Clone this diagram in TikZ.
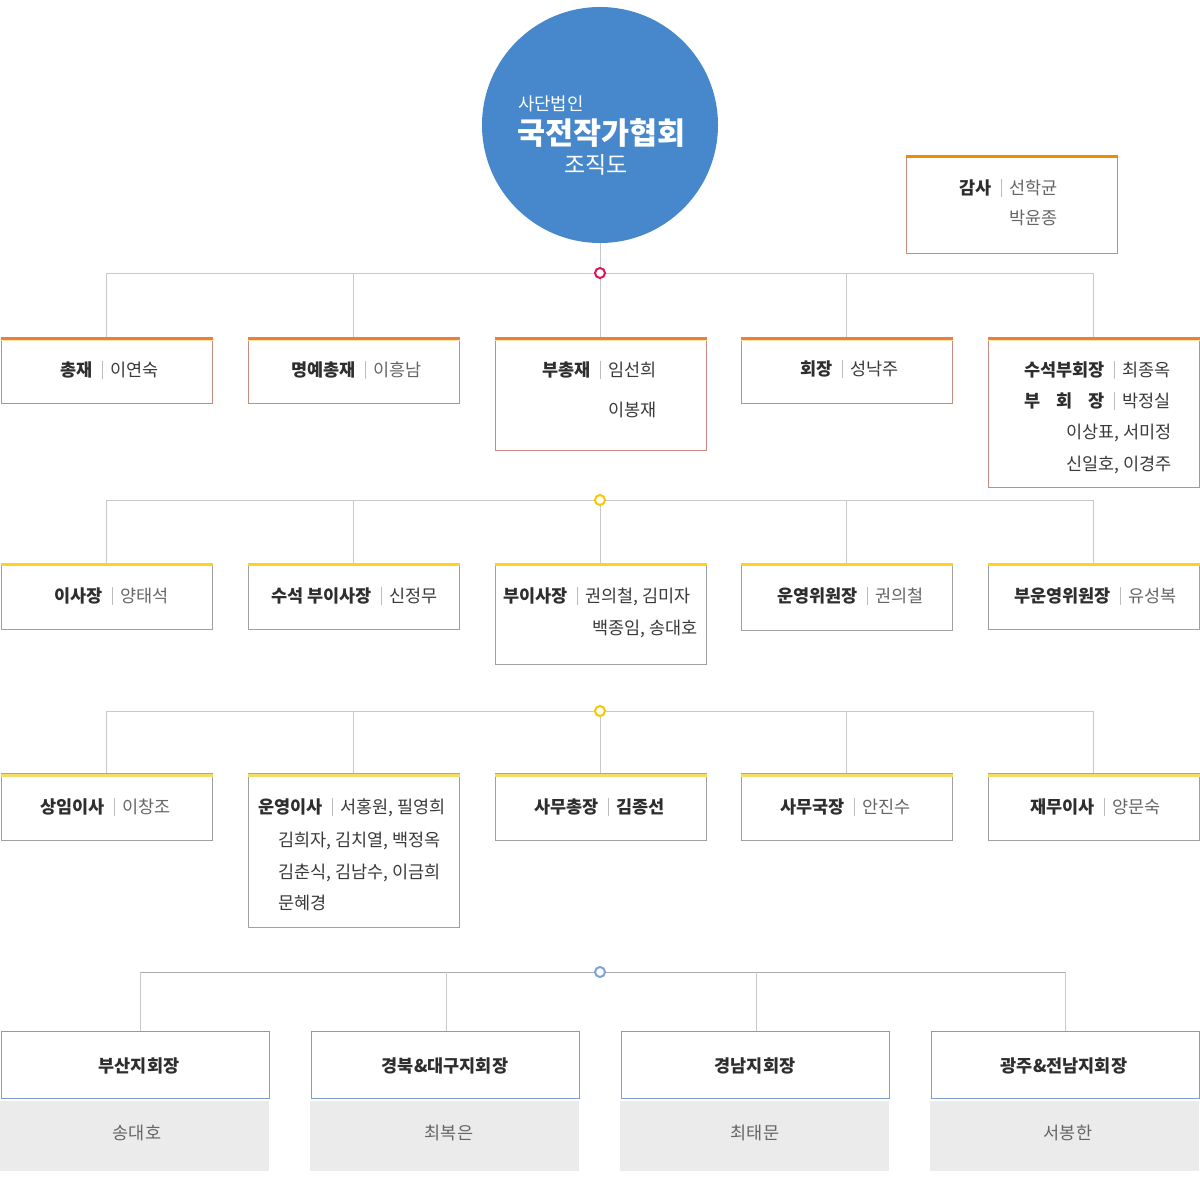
\documentclass[tikz,border=0pt]{standalone}
\usepackage{fontspec}
\setmainfont{Noto Sans CJK KR}
\usetikzlibrary{calc}
\definecolor{circblue}{HTML}{4688CB}
\definecolor{linegray}{HTML}{C9C9C9}
\definecolor{linegray4}{HTML}{ABABAB}
\definecolor{redhub}{HTML}{E0145A}
\definecolor{yelhub}{HTML}{F4C900}
\definecolor{bluehub}{HTML}{7FA2D6}
\definecolor{orangeA}{HTML}{EB7F3B}
\definecolor{orangeB}{HTML}{F08C00}
\definecolor{lightyelA}{HTML}{FBE6A6}
\definecolor{redbord}{HTML}{C98A82}
\definecolor{graybord}{HTML}{A0A0A0}
\definecolor{yelB}{HTML}{FFD21F}
\definecolor{goldC}{HTML}{C9A93A}
\definecolor{yelC}{HTML}{F3DD6A}
\definecolor{bluebord}{HTML}{7E9DC9}
\definecolor{grayfill}{HTML}{EBEBEB}
\definecolor{labcol}{HTML}{2E2E2E}
\definecolor{valcol}{HTML}{3A3A3A}
\definecolor{vallight}{HTML}{666666}
\definecolor{sepcol}{HTML}{BDBDBD}
\newcommand\ent[6]{%
  \node[lab, anchor=base east] (#1l) at (#2-9,#3) {#4};
  \draw[sepl] (#2,#3-15) -- (#2,#3+3);
  \node[#6, anchor=base west] (#1v) at (#2+8,#3) {#5};
}
\newcommand\stripeA[1]{%
  \draw[orangeA, line width=3pt] ([yshift=-1.5pt]#1.north west) -- ([yshift=-1.5pt]#1.north east);
  \draw[lightyelA, line width=1pt] ([yshift=-3.5pt]#1.north west) -- ([yshift=-3.5pt]#1.north east);
}
\newcommand\stripeB[1]{%
  \draw[yelB, line width=3pt] ([yshift=-1.5pt]#1.north west) -- ([yshift=-1.5pt]#1.north east);
}
\newcommand\stripeC[1]{%
  \draw[yelC, line width=3pt] ([yshift=-2pt]#1.north west) -- ([yshift=-2pt]#1.north east);
  \draw[goldC, line width=1pt] ([yshift=-0.5pt]#1.north west) -- ([yshift=-0.5pt]#1.north east);
}
\begin{document}
\begin{tikzpicture}[x=1pt,y=-1pt,
  conn/.style={draw=linegray, line width=1pt},
  conn4/.style={draw=linegray4, line width=1pt},
  hub/.style={circle, draw=#1, line width=2pt, fill=white, minimum size=10pt, inner sep=0pt},
  boxA/.style={draw=redbord, line width=1pt, fill=white, anchor=north west, inner sep=0pt},
  boxB/.style={draw=graybord, line width=1pt, fill=white, anchor=north west, inner sep=0pt},
  boxD/.style={draw=bluebord, line width=1pt, fill=white, anchor=north west, inner sep=0pt},
  boxG/.style={fill=grayfill, anchor=north west, inner sep=0pt},
  lab/.style={font=\fontsize{17.5}{21}\selectfont\bfseries, text=labcol, inner sep=0pt},
  val/.style={font=\fontsize{17.5}{21}\selectfont, text=valcol, inner sep=0pt},
  valL/.style={font=\fontsize{17.5}{21}\selectfont, text=vallight, inner sep=0pt},
  sepl/.style={draw=sepcol, line width=0.8pt},
  ttl/.style={text=white, inner sep=0pt, anchor=base west}
]
\fill[white] (0,0) rectangle (1200,1187);
\useasboundingbox (0,0) rectangle (1200,1187);

% ---- title circle
\node[circle, fill=circblue, minimum size=236pt, inner sep=0pt] (title) at (600,125) {};
\node[ttl, font=\fontsize{17.8}{21}\selectfont] (t1) at (518,110) {사단법인};
\node[ttl, font=\fontsize{30.5}{35}\selectfont\bfseries] (t2) at (517,144) {국전작가협회};
\node[ttl, font=\fontsize{23}{27}\selectfont] (t3) at (564,173) {조직도};

% ---- audit box
\node[boxA, minimum width=211pt, minimum height=98pt] (gam) at (905.5,155) {};
\draw[orangeB, line width=3pt] ([yshift=-1.5pt]gam.north west) -- ([yshift=-1.5pt]gam.north east);
\ent{gam}{1001}{194}{감사}{선학균}{valL}
\node[valL, anchor=base west] (gam2) at (1009,224) {박윤종};

% ---- level 1
\coordinate (h1) at (600,273);
\coordinate (j11) at (106,273); \coordinate (j12) at (353,273);
\coordinate (j14) at (846,273); \coordinate (j15) at (1093,273);
\node[boxA, minimum width=211pt, minimum height=66pt] (b11) at (0.5,337) {};
\node[boxA, minimum width=211pt, minimum height=66pt] (b12) at (247.5,337) {};
\node[boxA, minimum width=211pt, minimum height=113pt] (b13) at (494.5,337) {};
\node[boxA, minimum width=211pt, minimum height=66pt] (b14) at (740.5,337) {};
\node[boxA, minimum width=211pt, minimum height=150pt] (b15) at (987.5,337) {};
\draw[conn] (title.south) -- (h1);
\draw[conn] (j11) -- (j15);
\draw[conn] (j11) -- (j11 |- b11.north);
\draw[conn] (j12) -- (j12 |- b12.north);
\draw[conn] (h1) -- (h1 |- b13.north);
\draw[conn] (j14) -- (j14 |- b14.north);
\draw[conn] (j15) -- (j15 |- b15.north);
\node[hub=redhub] (hub1) at (h1) {};
\stripeA{b11}\stripeA{b12}\stripeA{b13}\stripeA{b14}\stripeA{b15}
\ent{e11}{102}{376}{총재}{이연숙}{val}
\ent{e12}{365}{376}{명예총재}{이흥남}{valL}
\ent{e13}{600}{376}{부총재}{임선희}{val}
\node[val, anchor=base west] (e13b) at (608,416) {이봉재};
\ent{e14}{842}{375}{회장}{성낙주}{val}
\ent{e15}{1114}{376}{수석부회장}{최종옥}{val}
\ent{e16}{1114}{407}{\makebox[80pt][s]{부\hfill 회\hfill 장}}{박정실}{val}
\node[val, anchor=base east] (e17) at (1172,438) {이상표, 서미정};
\node[val, anchor=base east] (e18) at (1172,470) {신일호, 이경주};

% ---- level 2
\coordinate (h2) at (600,500);
\coordinate (j21) at (106,500); \coordinate (j22) at (353,500);
\coordinate (j24) at (846,500); \coordinate (j25) at (1093,500);
\node[boxB, minimum width=211pt, minimum height=66pt] (b21) at (0.5,563) {};
\node[boxB, minimum width=211pt, minimum height=66pt] (b22) at (247.5,563) {};
\node[boxB, minimum width=211pt, minimum height=101pt] (b23) at (494.5,563) {};
\node[boxB, minimum width=211pt, minimum height=67pt] (b24) at (740.5,563) {};
\node[boxB, minimum width=211pt, minimum height=66pt] (b25) at (987.5,563) {};
\draw[conn] (j21) -- (j25);
\draw[conn] (j21) -- (j21 |- b21.north);
\draw[conn] (j22) -- (j22 |- b22.north);
\draw[conn] (h2) -- (h2 |- b23.north);
\draw[conn] (j24) -- (j24 |- b24.north);
\draw[conn] (j25) -- (j25 |- b25.north);
\node[hub=yelhub] (hub2) at (h2) {};
\stripeB{b21}\stripeB{b22}\stripeB{b23}\stripeB{b24}\stripeB{b25}
\ent{e21}{112}{602}{이사장}{양태석}{valL}
\ent{e22}{381}{602}{수석 부이사장}{신정무}{val}
\ent{e23}{577}{602}{부이사장}{권의철, 김미자}{val}
\node[val, anchor=base east] (e23b) at (698,634) {백종임, 송대호};
\ent{e24}{867}{602}{운영위원장}{권의철}{valL}
\ent{e25}{1120}{602}{부운영위원장}{유성복}{valL}

% ---- level 3
\coordinate (h3) at (600,711);
\coordinate (j31) at (106,711); \coordinate (j32) at (353,711);
\coordinate (j34) at (846,711); \coordinate (j35) at (1093,711);
\node[boxB, minimum width=211pt, minimum height=67pt] (b31) at (0.5,773) {};
\node[boxB, minimum width=211pt, minimum height=154pt] (b32) at (247.5,773) {};
\node[boxB, minimum width=211pt, minimum height=67pt] (b33) at (494.5,773) {};
\node[boxB, minimum width=211pt, minimum height=67pt] (b34) at (740.5,773) {};
\node[boxB, minimum width=211pt, minimum height=67pt] (b35) at (987.5,773) {};
\draw[conn] (j31) -- (j35);
\draw[conn] (j31) -- (j31 |- b31.north);
\draw[conn] (j32) -- (j32 |- b32.north);
\draw[conn] (h3) -- (h3 |- b33.north);
\draw[conn] (j34) -- (j34 |- b34.north);
\draw[conn] (j35) -- (j35 |- b35.north);
\node[hub=yelhub] (hub3) at (h3) {};
\stripeC{b31}\stripeC{b32}\stripeC{b33}\stripeC{b34}\stripeC{b35}
\ent{e31}{114}{813}{상임이사}{이창조}{valL}
\ent{e32}{332}{813}{운영이사}{서홍원, 필영희}{val}
\node[val, anchor=base west] (e32b) at (278,846) {김희자, 김치열, 백정옥};
\node[val, anchor=base west] (e32c) at (278,878) {김춘식, 김남수, 이금희};
\node[val, anchor=base west] (e32d) at (278,909) {문혜경};
\ent{e33}{608}{813}{사무총장}{김종선}{lab}
\ent{e34}{854}{813}{사무국장}{안진수}{valL}
\ent{e35}{1104}{813}{재무이사}{양문숙}{valL}

% ---- level 4
\coordinate (h4) at (600,972);
\coordinate (j41) at (140,972); \coordinate (j42) at (446,972);
\coordinate (j43) at (756,972); \coordinate (j44) at (1065,972);
\node[boxD, minimum width=268pt, minimum height=67pt] (b41) at (0.5,1031) {};
\node[boxD, minimum width=268pt, minimum height=67pt] (b42) at (310.5,1031) {};
\node[boxD, minimum width=268pt, minimum height=67pt] (b43) at (620.5,1031) {};
\node[boxD, minimum width=268pt, minimum height=67pt] (b44) at (930.5,1031) {};
\node[boxG, minimum width=269pt, minimum height=70pt] (g41) at (0,1101) {};
\node[boxG, minimum width=269pt, minimum height=70pt] (g42) at (310,1101) {};
\node[boxG, minimum width=269pt, minimum height=70pt] (g43) at (620,1101) {};
\node[boxG, minimum width=269pt, minimum height=70pt] (g44) at (930,1101) {};
\draw[conn4] (j41) -- (j44);
\draw[conn] (j41) -- (j41 |- b41.north);
\draw[conn] (j42) -- (j42 |- b42.north);
\draw[conn] (j43) -- (j43 |- b43.north);
\draw[conn] (j44) -- (j44 |- b44.north);
\node[hub=bluehub] (hub4) at (h4) {};
\node[lab, anchor=base] (n41) at (139,1072) {부산지회장};
\node[lab, anchor=base] (n42) at (445,1072) {경북\&대구지회장};
\node[lab, anchor=base] (n43) at (755,1072) {경남지회장};
\node[lab, anchor=base] (n44) at (1064,1072) {광주\&전남지회장};
\node[valL, anchor=base] (m41) at (137,1139) {송대호};
\node[valL, anchor=base] (m42) at (449,1139) {최복은};
\node[valL, anchor=base] (m43) at (755,1139) {최태문};
\node[valL, anchor=base] (m44) at (1068,1139) {서봉한};
\end{tikzpicture}
\end{document}
